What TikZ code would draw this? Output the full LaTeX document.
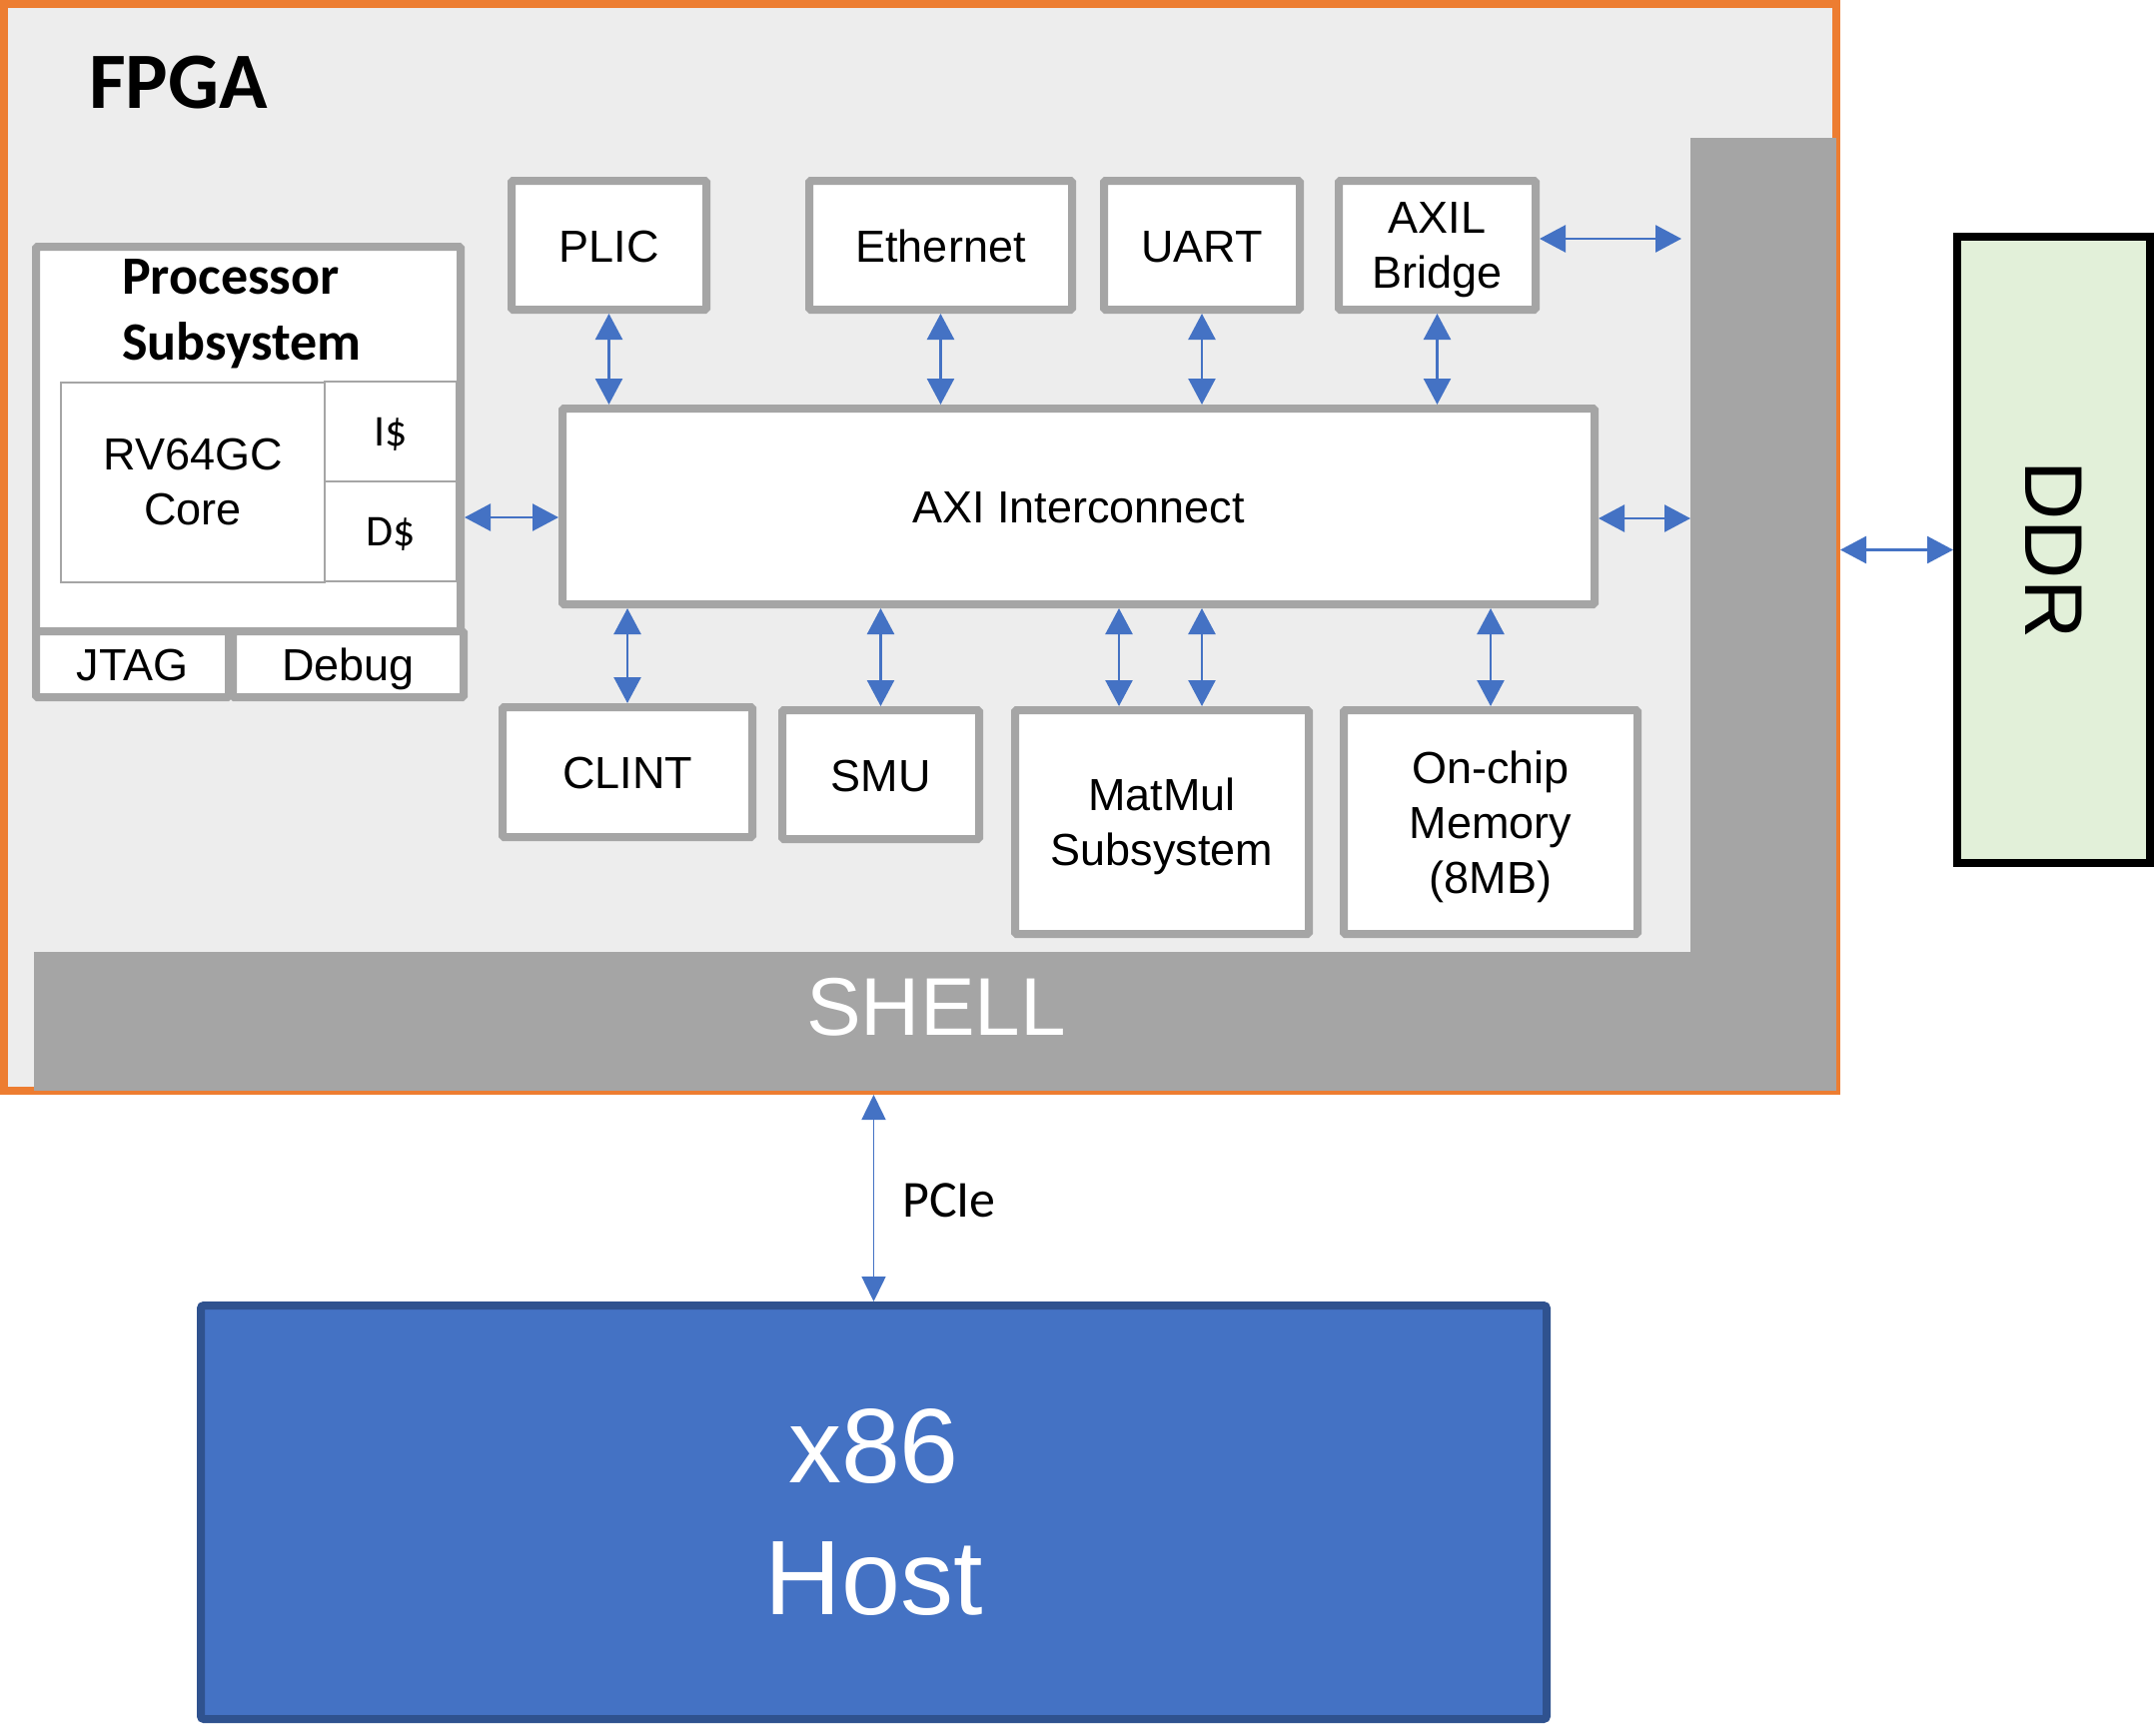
\documentclass[tikz,border=0pt]{standalone}
\usepackage{fontspec}
\setmainfont{Liberation Sans}
\newfontfamily\calib{Carlito}
\usetikzlibrary{arrows.meta,calc}
\definecolor{orng}{HTML}{ED7D31}
\definecolor{bggray}{HTML}{EDEDED}
\definecolor{shellgray}{HTML}{A5A5A5}
\definecolor{bordergray}{HTML}{A5A5A5}
\definecolor{arrowblue}{HTML}{4472C4}
\definecolor{hostblue}{HTML}{4472C4}
\definecolor{hostborder}{HTML}{2F528F}
\definecolor{ddrgreen}{HTML}{E2F0D9}
\newcommand\myfs[2]{\fontsize{#1}{#2}\selectfont}
\begin{document}
\begin{tikzpicture}[x=1pt,y=-1pt,
  box/.style={draw=bordergray, fill=white, line width=8pt, rounded corners=1.5pt, inner sep=0pt, align=center, font=\myfs{45}{55}},
  one/.style={text height=33pt, text depth=0pt},
  multi/.style={text depth=0pt},
  thinbox/.style={draw=bordergray, line width=2.5pt, inner sep=0pt},
  biarrow/.style={draw=arrowblue, line width=2.5pt, {Triangle[length=26pt,width=27pt]}-{Triangle[length=26pt,width=27pt]}},
  pciearrow/.style={draw=arrowblue, line width=1.5pt, {Triangle[length=25pt,width=24pt]}-{Triangle[length=25pt,width=24pt]}},
  shellpart/.style={fill=shellgray, inner sep=0pt, outer sep=0pt}
]
\fill[white] (0,0) rectangle (2158,1726);
\useasboundingbox (0,0) rectangle (2158,1726);

% FPGA frame and shell
\node[draw=orng, fill=bggray, line width=8pt, minimum width=1834pt, minimum height=1088pt, inner sep=0pt] (fpga) at (921,548) {};
\node[shellpart, minimum width=146pt, minimum height=954pt] (shellV) at (1765,615) {};
\node[shellpart, minimum width=1804pt, minimum height=139pt] (shellH) at (936,1022.5) {};
\node[font=\myfs{82}{90}, text=white, anchor=base, inner sep=0pt] (shelltxt) at (937,1036) {SHELL};
\node[font=\calib\bfseries\myfs{80}{90}, anchor=base west, inner sep=0pt] (fpgatxt) at (89,109) {FPGA};

% Processor subsystem
\node[box, minimum width=425pt, minimum height=385pt] (proc) at (248.5,439.5) {};
\node[box, one, minimum width=193pt, minimum height=66pt] (jtag) at (132.5,665) {JTAG};
\node[box, one, minimum width=231pt, minimum height=66pt] (debug) at (348.5,665) {Debug};
\node[font=\calib\bfseries\myfs{54}{66}, align=left, anchor=north west, inner sep=0pt] (ptitle) at (122,259) {Processor\\Subsystem};
\node[thinbox, align=center, font=\myfs{45}{55}, minimum width=264pt, minimum height=200pt] (core) at (193,483) {RV64GC\\Core};
\node[thinbox, font=\calib\myfs{44}{50}, text height=28pt, text depth=0pt, minimum width=132pt, minimum height=100pt] (icache) at (391,432) {I\$};
\node[thinbox, font=\calib\myfs{44}{50}, text height=28pt, text depth=0pt, minimum width=132pt, minimum height=100pt] (dcache) at (391,532) {D\$};

% Top row
\node[box, one, minimum width=195pt, minimum height=129pt] (plic) at (609.5,245.5) {PLIC};
\node[box, one, minimum width=263pt, minimum height=129pt] (eth) at (941.5,245.5) {Ethernet};
\node[box, one, minimum width=196pt, minimum height=129pt] (uart) at (1203,245.5) {UART};
\node[box, multi, minimum width=197pt, minimum height=129pt] (axil) at (1438.5,245.5) {AXIL\\Bridge};

% Interconnect
\node[box, one, minimum width=1033pt, minimum height=196pt] (axi) at (1079.5,507) {AXI Interconnect};

% Bottom row
\node[box, one, minimum width=250pt, minimum height=130pt] (clint) at (628,773) {CLINT};
\node[box, one, minimum width=197pt, minimum height=129pt] (smu) at (881.5,775.5) {SMU};
\node[box, multi, minimum width=294pt, minimum height=224pt] (matmul) at (1163,823) {MatMul\\Subsystem};
\node[box, multi, minimum width=294pt, minimum height=224pt] (onchip) at (1492,823) {On-chip\\Memory\\(8MB)};

% DDR
\node[draw=black, fill=ddrgreen, line width=8pt, minimum width=193pt, minimum height=627pt, inner sep=0pt] (ddr) at (2055.5,550.5) {};
\node[rotate=-90, font=\myfs{82}{90}, inner sep=0pt] (ddrtxt) at (ddr.center) {DDR};

% Host
\node[draw=hostborder, fill=hostblue, line width=8pt, rounded corners=3pt, minimum width=1347pt, minimum height=414pt, inner sep=0pt, align=center, text=white, font=\myfs{106}{132}] (host) at (874.5,1514) {x86\\Host};
\node[font=\calib\myfs{52}{60}, anchor=base west, inner sep=0pt] (pcie) at (903,1218) {PCIe};

% Connectors
\coordinate (pa) at ($(axi.west)+(0,11)$);
\draw[biarrow] (pa -| proc.east) -- (pa);
\coordinate (sa) at ($(axi.east)+(0,12)$);
\draw[biarrow] (sa) -- (sa -| shellV.west);
\coordinate (ba) at ($(axil.east)+(0,-6.5)$);
\coordinate (bb) at ($(shellV.west)+(-9,0)$);
\draw[biarrow] (ba) -- (ba -| bb);
\draw[biarrow] (ddr.west -| fpga.east) -- (ddr.west);

\draw[biarrow] (plic.south) -- (plic.south |- axi.north);
\draw[biarrow] (eth.south) -- (eth.south |- axi.north);
\draw[biarrow] (uart.south) -- (uart.south |- axi.north);
\draw[biarrow] (axil.south) -- (axil.south |- axi.north);

\draw[biarrow] (clint.north |- axi.south) -- (clint.north);
\draw[biarrow] (smu.north |- axi.south) -- (smu.north);
\coordinate (m1) at ($(matmul.north)+(-43,0)$);
\coordinate (m2) at ($(matmul.north)+(40,0)$);
\draw[biarrow] (m1 |- axi.south) -- (m1);
\draw[biarrow] (m2 |- axi.south) -- (m2);
\draw[biarrow] (onchip.north |- axi.south) -- (onchip.north);

\draw[pciearrow] (host.north |- fpga.south) -- (host.north);
\end{tikzpicture}
\end{document}
